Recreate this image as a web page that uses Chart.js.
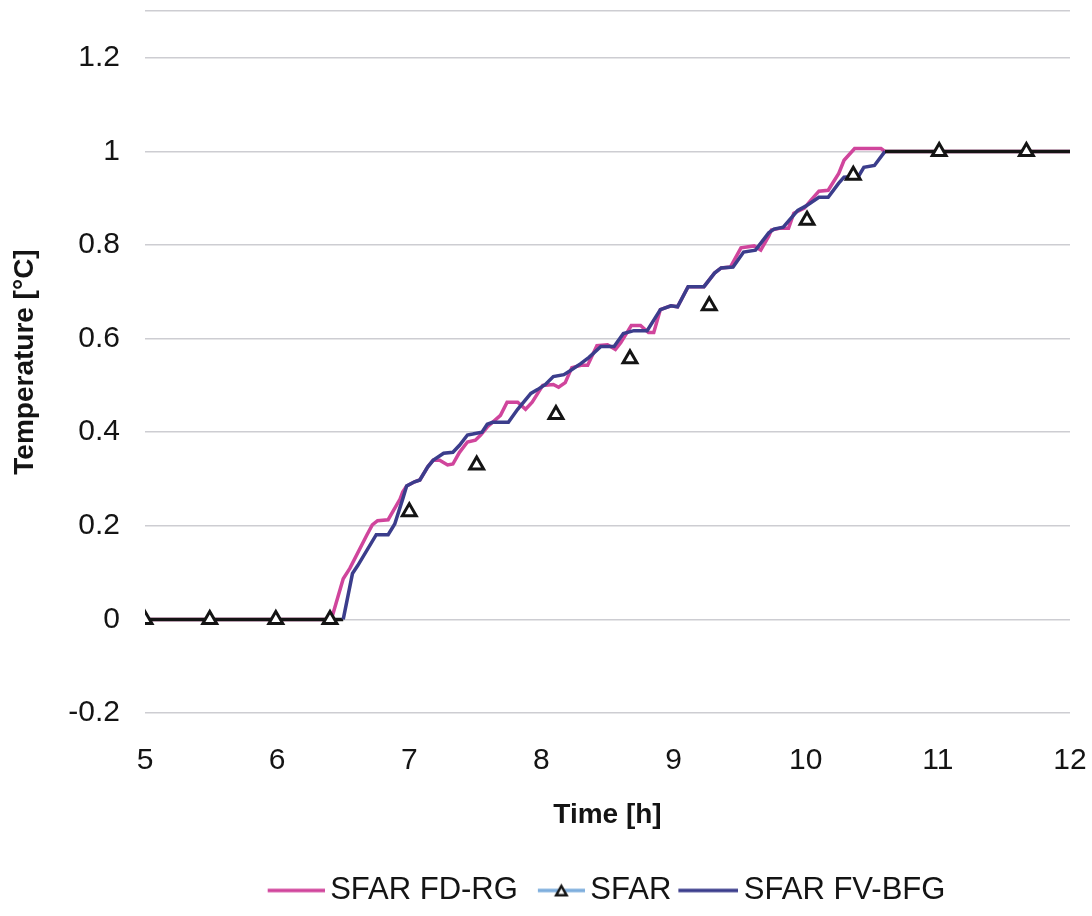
<!DOCTYPE html>
<html>
<head>
<meta charset="utf-8">
<title>Temperature vs Time</title>
<script src="https://cdn.jsdelivr.net/npm/chart.js@4.4.1/dist/chart.umd.min.js"></script>
<style>
  html, body { margin: 0; padding: 0; background: #ffffff; }
  #wrap { width: 1092px; height: 916px; }
</style>
</head>
<body>
<div id="wrap"><canvas id="chart" width="1092" height="916"></canvas></div>
<script>
// SFAR FD-RG solution: time [h] and temperature [°C]
const fdrgTime = [5, 6.41, 6.50, 6.55, 6.68, 6.72, 6.76, 6.84, 6.93, 6.95, 6.98, 7.04, 7.08, 7.14, 7.18,
  7.23, 7.29, 7.33, 7.38, 7.44, 7.50, 7.54, 7.59, 7.69, 7.74, 7.82, 7.88, 7.93, 8.01, 8.09, 8.13,
  8.18, 8.23, 8.30, 8.35, 8.42, 8.50, 8.56, 8.60, 8.68, 8.75, 8.81, 8.85, 8.90, 8.98, 9.03, 9.11,
  9.23, 9.31, 9.36, 9.43, 9.51, 9.61, 9.66, 9.72, 9.74, 9.81, 9.87, 9.91, 9.99, 10.04, 10.10, 10.17,
  10.25, 10.29, 10.37, 10.57, 10.60, 12];
const fdrgTemp = [0, 0, 0.087, 0.109, 0.181, 0.202, 0.211, 0.213, 0.257, 0.272, 0.285, 0.294, 0.298, 0.326, 0.340,
  0.340, 0.330, 0.332, 0.357, 0.379, 0.383, 0.394, 0.411, 0.436, 0.464, 0.464, 0.449, 0.464, 0.500, 0.502, 0.496,
  0.506, 0.538, 0.543, 0.543, 0.585, 0.587, 0.577, 0.591, 0.628, 0.628, 0.613, 0.613, 0.662, 0.670, 0.668, 0.711,
  0.711, 0.740, 0.751, 0.753, 0.794, 0.798, 0.789, 0.819, 0.832, 0.836, 0.836, 0.868, 0.879, 0.896, 0.915, 0.917,
  0.953, 0.981, 1.006, 1.006, 1.0, 1.0];

// SFAR FV-BFG solution
const fvbfgTime = [5, 6.50, 6.57, 6.61, 6.75, 6.84, 6.89, 6.95, 6.98, 7.04, 7.08, 7.14, 7.18, 7.26, 7.33,
  7.38, 7.44, 7.48, 7.55, 7.59, 7.63, 7.75, 7.82, 7.92, 7.97, 8.03, 8.09, 8.17, 8.22, 8.30, 8.36,
  8.45, 8.55, 8.62, 8.70, 8.80, 8.90, 8.98, 9.03, 9.11, 9.23, 9.31, 9.36, 9.45, 9.53, 9.62, 9.72,
  9.76, 9.83, 9.94, 10.00, 10.10, 10.17, 10.25, 10.29, 10.40, 10.44, 10.52, 10.60, 12];
const fvbfgTemp = [0, 0, 0.098, 0.115, 0.181, 0.181, 0.204, 0.257, 0.285, 0.294, 0.298, 0.326, 0.340, 0.355, 0.357,
  0.372, 0.394, 0.396, 0.400, 0.417, 0.421, 0.421, 0.449, 0.483, 0.491, 0.502, 0.519, 0.523, 0.532, 0.547, 0.560,
  0.583, 0.583, 0.611, 0.617, 0.617, 0.662, 0.670, 0.668, 0.711, 0.711, 0.740, 0.751, 0.753, 0.785, 0.789, 0.826,
  0.834, 0.838, 0.874, 0.883, 0.902, 0.902, 0.932, 0.945, 0.947, 0.966, 0.970, 1.0, 1.0];

// SFAR reference values (markers)
const sfarTime = [5, 5.49, 5.99, 6.40, 7.00, 7.51, 8.11, 8.67, 9.27, 10.01, 10.36, 11.01, 11.67];
const sfarTemp = [0, 0, 0, 0, 0.23, 0.33, 0.438, 0.557, 0.67, 0.853, 0.949, 1.0, 1.0];

// Axis ticks
const xTicks = [5, 6, 7, 8, 9, 10, 11, 12];
const yTicks = [-0.2, 0, 0.2, 0.4, 0.6, 0.8, 1, 1.2];
const yTop = 1.3;

const toPoints = (xs, ys) => xs.map((x, i) => ({ x: x, y: ys[i] }));

const FONT = '"Liberation Sans", Arial, Helvetica, sans-serif';
const PINK = '#d0459c';
const NAVY = '#3b3d8c';
const LIGHT_BLUE = '#7eaedd';
const INK = '#141414';

// Legend swatches: a short line ending just before the label, optionally with a triangle marker
const SWATCH_BOX = 45;
function swatch(color, lineLen, withTriangle) {
  const w = SWATCH_BOX + 20, h = 22;
  const c = document.createElement('canvas');
  c.width = w; c.height = h;
  const g = c.getContext('2d');
  g.strokeStyle = color;
  g.lineWidth = 3.5;
  g.beginPath();
  g.moveTo(w - lineLen, h / 2);
  g.lineTo(w, h / 2);
  g.stroke();
  if (withTriangle) {
    const cx = w - lineLen / 2, cy = h / 2 + 1, r = 5.5;
    g.beginPath();
    g.moveTo(cx, cy - r);
    g.lineTo(cx + r * 0.95, cy + r * 0.7);
    g.lineTo(cx - r * 0.95, cy + r * 0.7);
    g.closePath();
    g.fillStyle = '#ffffff';
    g.fill();
    g.strokeStyle = INK;
    g.lineWidth = 2.5;
    g.stroke();
  }
  return c;
}
const legendSwatches = [swatch(PINK, 57, false), swatch(LIGHT_BLUE, 47, true), swatch(NAVY, 60, false)];

// Flat start/end plateaus of the FV-BFG line are drawn dark
const plateauColor = (ctx) => {
  const a = ctx.p0.parsed.y, b = ctx.p1.parsed.y;
  return (a === b && (a === 0 || a === 1)) ? INK : undefined;
};

const ctx = document.getElementById('chart').getContext('2d');
new Chart(ctx, {
  type: 'scatter',
  data: {
    datasets: [
      {
        label: 'SFAR FD-RG',
        data: toPoints(fdrgTime, fdrgTemp),
        showLine: true,
        borderColor: PINK,
        backgroundColor: PINK,
        borderWidth: 3.5,
        pointRadius: 0,
        tension: 0,
        order: 3
      },
      {
        label: 'SFAR',
        data: toPoints(sfarTime, sfarTemp),
        showLine: false,
        pointStyle: 'triangle',
        pointRadius: 8,
        pointBorderWidth: 3,
        pointBorderColor: INK,
        pointBackgroundColor: '#ffffff',
        borderColor: LIGHT_BLUE,
        backgroundColor: '#ffffff',
        order: 1
      },
      {
        label: 'SFAR FV-BFG',
        data: toPoints(fvbfgTime, fvbfgTemp),
        showLine: true,
        borderColor: NAVY,
        backgroundColor: NAVY,
        borderWidth: 3.5,
        pointRadius: 0,
        tension: 0,
        segment: { borderColor: plateauColor },
        order: 2
      }
    ]
  },
  options: {
    responsive: false,
    animation: false,
    layout: { padding: { top: 8, right: 22, bottom: 0, left: 0 } },
    plugins: {
      tooltip: { enabled: false },
      legend: {
        position: 'bottom',
        fullSize: false,
        labels: {
          usePointStyle: true,
          pointStyleWidth: SWATCH_BOX,
          padding: 12,
          color: INK,
          font: { family: FONT, size: 31 },
          generateLabels: (chart) => chart.data.datasets.map((ds, i) => ({
            text: ds.label,
            pointStyle: legendSwatches[i],
            fillStyle: 'transparent',
            strokeStyle: 'transparent',
            lineWidth: 0,
            datasetIndex: i,
            hidden: false,
            fontColor: INK
          }))
        }
      }
    },
    scales: {
      x: {
        type: 'linear',
        min: xTicks[0],
        max: xTicks[xTicks.length - 1],
        afterBuildTicks: (scale) => { scale.ticks = xTicks.map(v => ({ value: v })); },
        afterFit: (scale) => {
          scale.height = 150;
          scale.paddingLeft = 0;
          scale.paddingRight = 0;
        },
        grid: { display: false, drawTicks: false },
        border: { display: false },
        ticks: {
          padding: 30,
          color: INK,
          font: { family: FONT, size: 30 },
          maxRotation: 0,
          callback: (v) => String(v)
        },
        title: {
          display: true,
          text: 'Time [h]',
          color: INK,
          font: { family: FONT, size: 28, weight: 'bold' },
          padding: { top: 17, bottom: 31 }
        }
      },
      y: {
        type: 'linear',
        min: yTicks[0],
        max: yTop,
        afterBuildTicks: (scale) => { scale.ticks = yTicks.concat([yTop]).map(v => ({ value: v })); },
        afterFit: (scale) => {
          scale.width = 145;
          scale.paddingTop = 0;
          scale.paddingBottom = 0;
        },
        grid: { color: '#cdcdd2', lineWidth: 1.5, drawTicks: false },
        border: { display: false },
        ticks: {
          padding: 25,
          color: INK,
          font: { family: FONT, size: 30 },
          callback: (v) => (yTicks.some(t => Math.abs(t - v) < 1e-9) ? String(Math.round(v * 10) / 10) : '')
        },
        title: {
          display: true,
          text: 'Temperature [°C]',
          color: INK,
          font: { family: FONT, size: 28, weight: 'bold' },
          padding: { top: 8, bottom: 26 }
        }
      }
    }
  }
});
</script>
</body>
</html>
